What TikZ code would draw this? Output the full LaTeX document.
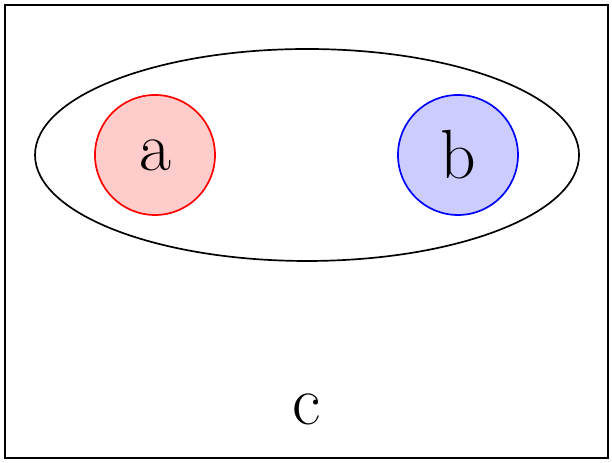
\documentclass[tikz,border=0pt]{standalone}
\usetikzlibrary{shapes.geometric,positioning}

\begin{document}
\begin{tikzpicture}[
    line width=0.8pt,
    font=\fontsize{33}{40}\selectfont,
    setcirc/.style={draw,circle,minimum size=2cm,inner sep=0pt},
    aset/.style={setcirc,draw=red,fill=red!20},
    bset/.style={setcirc,draw=blue,fill=blue!20},
    pairset/.style={draw,ellipse,minimum width=9.067cm,minimum height=3.533cm,inner sep=0pt},
    universe/.style={draw,rectangle,minimum width=10.05cm,minimum height=7.55cm,inner sep=0pt},
]
\useasboundingbox (0,0) rectangle (10.2,-7.7);

% ---------- outer box and its label ----------
\node[universe] (box) at (5.108,-3.858) {};
\node (c) at (5.117,-6.83) {c};

% ---------- ellipse holding a and b ----------
\node[pairset] (ab) at (5.117,-2.583) {};
\node[aset] (a) at (2.583,-2.583) {a};
\node[bset] (b) at (7.633,-2.583) {b};

\end{tikzpicture}
\end{document}
